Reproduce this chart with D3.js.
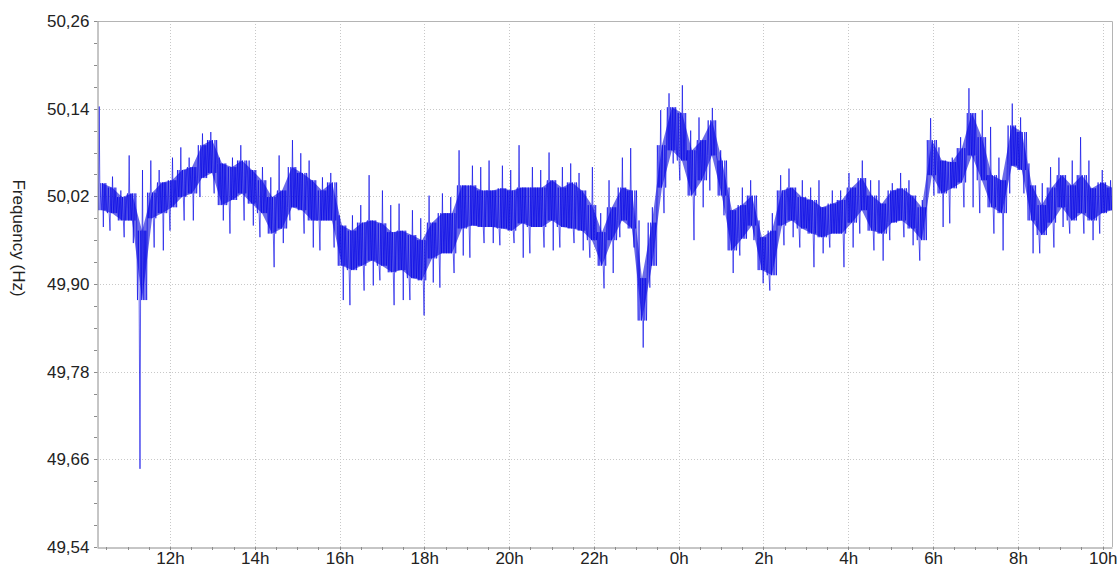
<!DOCTYPE html>
<html>
<head>
<meta charset="utf-8">
<script src="https://cdn.jsdelivr.net/npm/d3@7"></script>
<style>
  body { margin: 0; background: #fff; }
  svg { display: block; }
  text { font-family: "Liberation Sans", Arial, sans-serif; fill: #222; }
</style>
</head>
<body>
<svg id="chart" width="1117" height="568"></svg>
<script>
// Grid frequency, sampled in ~14-minute bins. For every bin: extreme high,
// upper edge of the dense band, lower edge of the dense band, extreme low (Hz).
const binStartHour = 10.40;      // centre of the first bin (hours, continues past 24)
const binStepHours = 0.2358;     // bin length in hours

const freqHigh = [
  50.143, 50.047, 50.028, 50.076, 50.056, 50.069, 50.056, 50.073, 50.087, 50.073,
  50.106, 50.108, 50.073, 50.073, 50.090, 50.069, 50.060, 50.046, 50.076, 50.097,
  50.079, 50.069, 50.046, 50.052, 49.994, 49.994, 50.008, 50.049, 50.028, 50.008,
  50.010, 50.001, 49.990, 50.021, 50.024, 50.019, 50.083, 50.062, 50.060, 50.069,
  50.062, 50.056, 50.090, 50.060, 50.056, 50.080, 50.060, 50.065, 50.052, 50.060,
  49.997, 50.042, 50.073, 50.086, 49.987, 50.005, 50.138, 50.161, 50.172, 50.110,
  50.128, 50.141, 50.083, 50.032, 50.032, 50.042, 49.987, 49.997, 50.049, 50.058,
  50.042, 50.032, 50.042, 50.028, 50.028, 50.052, 50.069, 50.042, 50.042, 50.038,
  50.052, 50.042, 50.015, 50.127, 50.087, 50.073, 50.101, 50.168, 50.138, 50.115,
  50.073, 50.147, 50.128, 50.065, 50.038, 50.060, 50.073, 50.069, 50.101, 50.069,
  50.056, 50.042
];
const coreHigh = [
  50.038, 50.032, 50.019, 50.024, 49.973, 50.025, 50.039, 50.042, 50.056, 50.060,
  50.090, 50.097, 50.065, 50.060, 50.069, 50.056, 50.042, 50.019, 50.028, 50.060,
  50.052, 50.042, 50.028, 50.039, 49.980, 49.973, 49.984, 49.987, 49.983, 49.971,
  49.973, 49.967, 49.960, 49.984, 49.997, 49.997, 50.035, 50.035, 50.028, 50.028,
  50.031, 50.028, 50.032, 50.032, 50.032, 50.042, 50.032, 50.039, 50.028, 50.008,
  49.971, 50.005, 50.032, 50.028, 49.908, 49.984, 50.090, 50.142, 50.134, 50.083,
  50.097, 50.124, 50.069, 50.001, 50.008, 50.021, 49.964, 49.973, 50.028, 50.032,
  50.019, 50.015, 50.005, 50.010, 50.015, 50.032, 50.045, 50.021, 50.010, 50.028,
  50.031, 50.021, 50.005, 50.097, 50.069, 50.067, 50.086, 50.134, 50.101, 50.049,
  50.042, 50.117, 50.108, 50.035, 50.008, 50.032, 50.049, 50.035, 50.049, 50.031,
  50.039, 50.032
];
const coreLow = [
  50.001, 49.997, 49.987, 49.987, 49.878, 49.990, 49.997, 50.005, 50.019, 50.024,
  50.045, 50.052, 50.008, 50.015, 50.024, 50.010, 49.997, 49.969, 49.976, 50.005,
  50.001, 49.987, 49.987, 49.987, 49.925, 49.919, 49.925, 49.932, 49.925, 49.916,
  49.919, 49.908, 49.905, 49.935, 49.942, 49.942, 49.976, 49.980, 49.978, 49.978,
  49.976, 49.973, 49.983, 49.978, 49.978, 49.987, 49.978, 49.976, 49.973, 49.960,
  49.925, 49.960, 49.987, 49.976, 49.850, 49.925, 50.032, 50.083, 50.069, 50.021,
  50.042, 50.076, 50.021, 49.946, 49.962, 49.980, 49.919, 49.912, 49.980, 49.987,
  49.976, 49.969, 49.964, 49.969, 49.969, 49.984, 50.001, 49.973, 49.969, 49.984,
  49.987, 49.976, 49.960, 50.049, 50.024, 50.031, 50.039, 50.076, 50.042, 50.005,
  49.997, 50.062, 50.056, 49.987, 49.967, 49.984, 50.005, 49.987, 49.997, 49.987,
  49.997, 50.001
];
const freqLow = [
  49.978, 49.973, 49.964, 49.956, 49.647, 49.950, 49.946, 49.973, 49.987, 49.987,
  50.019, 50.024, 49.987, 49.969, 49.987, 49.980, 49.964, 49.923, 49.956, 49.987,
  49.969, 49.950, 49.946, 49.950, 49.878, 49.871, 49.891, 49.898, 49.905, 49.871,
  49.878, 49.878, 49.857, 49.902, 49.895, 49.915, 49.939, 49.936, 49.956, 49.956,
  49.953, 49.956, 49.936, 49.942, 49.950, 49.946, 49.950, 49.956, 49.946, 49.936,
  49.894, 49.915, 49.964, 49.950, 49.813, 49.895, 49.997, 50.065, 50.042, 49.960,
  50.005, 50.028, 49.994, 49.915, 49.939, 49.960, 49.901, 49.891, 49.953, 49.964,
  49.950, 49.923, 49.942, 49.950, 49.923, 49.950, 49.969, 49.946, 49.932, 49.960,
  49.964, 49.953, 49.932, 50.021, 49.978, 49.983, 50.005, 50.005, 49.997, 49.969,
  49.946, 50.024, 50.024, 49.942, 49.942, 49.950, 49.978, 49.969, 49.969, 49.960,
  49.969, 49.997
];

const yTicks = [49.54, 49.66, 49.78, 49.90, 50.02, 50.14, 50.26];
const xTicks = [12, 14, 16, 18, 20, 22, 24, 26, 28, 30, 32, 34];
const xTickLabels = ["12h", "14h", "16h", "18h", "20h", "22h", "0h", "2h", "4h", "6h", "8h", "10h"];
const yTitle = "Frequency (Hz)";

const svg = d3.select("#chart");
const plot = { left: 97, right: 1112, top: 21, bottom: 547 };

const x = d3.scaleLinear().domain([10.28, 34.22]).range([plot.left, plot.right]);
const y = d3.scaleLinear().domain([49.54, 50.26]).range([plot.bottom, plot.top]);

const commaFmt = d3.formatLocale({ decimal: ",", thousands: ".", grouping: [3], currency: ["", ""] }).format(".2f");

// dotted grid
const grid = svg.append("g");
grid.selectAll("line.h").data(yTicks.slice(1, -1)).join("line")
  .attr("x1", plot.left).attr("x2", plot.right)
  .attr("y1", d => Math.round(y(d)) + 0.5).attr("y2", d => Math.round(y(d)) + 0.5)
  .attr("stroke", "#c8c8c8").attr("stroke-dasharray", "1,2");
grid.selectAll("line.v").data(xTicks).join("line")
  .attr("y1", plot.top).attr("y2", plot.bottom)
  .attr("x1", d => Math.round(x(d)) + 0.5).attr("x2", d => Math.round(x(d)) + 0.5)
  .attr("stroke", "#c8c8c8").attr("stroke-dasharray", "1,2");

// frame: top and right border
svg.append("path")
  .attr("d", `M${plot.left},${plot.top + 0.5}H${plot.right + 0.5}V${plot.bottom}`)
  .attr("fill", "none").attr("stroke", "#b4b4b4");

// frequency trace, clipped to the plot area
svg.append("clipPath").attr("id", "plotClip").append("rect")
  .attr("x", plot.left + 1).attr("y", plot.top + 1)
  .attr("width", plot.right - plot.left - 1).attr("height", plot.bottom - plot.top - 1);

const bins = freqHigh.map((hi, i) => ({
  t: binStartHour + i * binStepHours,
  hi: hi, cH: coreHigh[i], cL: coreLow[i], lo: freqLow[i]
}));

const trace = svg.append("g").attr("clip-path", "url(#plotClip)");

// dense band between the band edges
trace.append("path")
  .datum(bins)
  .attr("fill", "#0808d8")
  .attr("fill-opacity", 0.6)
  .attr("d", d3.area().x(d => x(d.t)).y0(d => y(d.cL)).y1(d => y(d.cH)));

// fast oscillation: strokes across the band plus the extreme excursions
const patterns = [
  ["cH", "cL", "hi", "cL", "cH", "cL", "cH", "lo", "cH", "cL", "cH", "cL"],
  ["cL", "cH", "cL", "lo", "cH", "cL", "hi", "cL", "cH", "cL", "cH", "cL"],
  ["cH", "cL", "cH", "cL", "hi", "cL", "cH", "cL", "lo", "cH", "cL", "cH"]
];
const samples = [];
bins.forEach((b, i) => {
  const pat = patterns[i % patterns.length];
  const t0 = b.t - binStepHours / 2;
  pat.forEach((key, k) => {
    samples.push({ t: t0 + (k + 0.5) * binStepHours / pat.length, v: b[key] });
  });
});

trace.append("path")
  .datum(samples)
  .attr("fill", "none")
  .attr("stroke", "#0000e8")
  .attr("stroke-width", 0.75)
  .attr("stroke-opacity", 0.85)
  .attr("d", d3.line().x(d => x(d.t)).y(d => y(d.v)));

// axes
const yAxis = svg.append("g").attr("transform", `translate(${plot.left + 0.5},0)`)
  .call(d3.axisLeft(y).tickValues(yTicks).tickFormat(commaFmt).tickSize(0).tickPadding(8));
const xAxis = svg.append("g").attr("transform", `translate(0,${plot.bottom + 0.5})`)
  .call(d3.axisBottom(x).tickValues(xTicks).tickFormat((d, i) => xTickLabels[i]).tickSize(0));
[yAxis, xAxis].forEach(g => {
  g.select(".domain").attr("stroke", "#8c8c8c");
  g.selectAll("text").attr("font-size", 17).attr("fill", "#222")
    .attr("font-family", "'Liberation Sans', Arial, sans-serif");
});
// x labels sit on a fixed baseline just above the lower edge
xAxis.selectAll("text").attr("y", 16.5).attr("dy", null);

// minor ticks
const minorY = d3.range(0, 25).map(k => 49.54 + k * 0.03);
svg.append("g").selectAll("line").data(minorY).join("line")
  .attr("x1", plot.left - 3).attr("x2", plot.left)
  .attr("y1", d => Math.round(y(d)) + 0.5).attr("y2", d => Math.round(y(d)) + 0.5)
  .attr("stroke", "#8c8c8c");
const minorX = d3.range(10.5, 34.2, 0.5);
svg.append("g").selectAll("line").data(minorX).join("line")
  .attr("y1", plot.bottom).attr("y2", plot.bottom + 3)
  .attr("x1", d => Math.round(x(d)) + 0.5).attr("x2", d => Math.round(x(d)) + 0.5)
  .attr("stroke", "#8c8c8c");

// axis title
svg.append("text")
  .attr("transform", "translate(13,238) rotate(90)")
  .attr("text-anchor", "middle")
  .attr("font-size", 17)
  .text(yTitle);
</script>
</body>
</html>
